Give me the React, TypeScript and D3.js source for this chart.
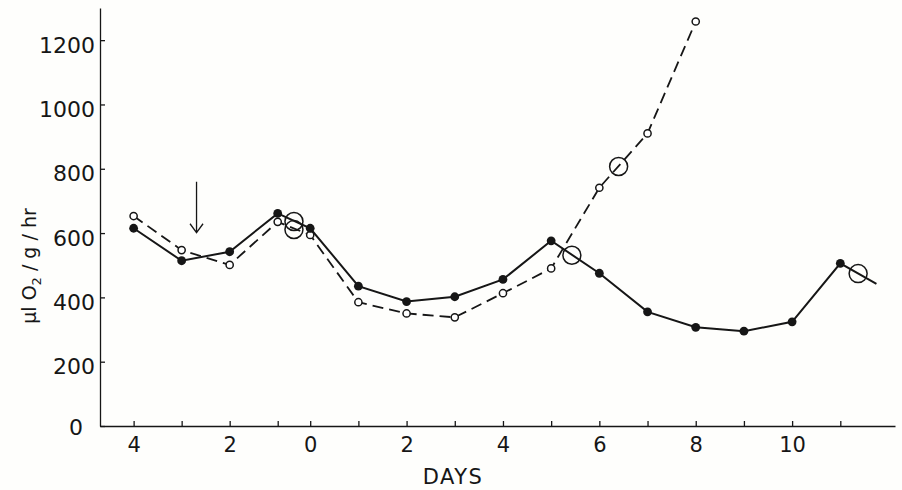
import React, { useEffect, useRef } from 'react';
import * as d3 from 'd3';

// days relative to the event; left segment (-4..-1) is drawn on its own spacing
const tickDays = d3.range(-4, 12);
const solidDays = [-4, -3, -2, -1, 0, 1, 2, 3, 4, 5, 6, 7, 8, 9, 10, 11];
const solidValues = [615, 514, 542, 661, 615, 435, 387, 402, 456, 576, 475, 355, 307, 295, 324, 506];
const solidTail = { day: 11.75, value: 442 };
const dashedDays = [-4, -3, -2, -1, 0, 1, 2, 3, 4, 5, 6, 7, 8];
const dashedValues = [653, 547, 501, 635, 594, 385, 350, 338, 413, 490, 741, 910, 1258];
const bigDays = [-0.5, -0.5, 5.43, 6.4, 11.37];
const bigValues = [636, 611, 531, 807, 474];
const arrowDay = -2.69;
const arrowFrom = 760;
const arrowTo = 601;
const yTicks = [0, 200, 400, 600, 800, 1000, 1200];

const W = 902, H = 490;
const ink = '#161616';
const font = '"DejaVu Sans", sans-serif';

const App: React.FC = () => {
  const svgRef = useRef<SVGSVGElement | null>(null);

  useEffect(() => {
    if (!svgRef.current) return;
    const svg = d3.select(svgRef.current);
    svg.selectAll('*').remove();

    // polylinear: the -1..0 gap is narrower than the other days
    const x = d3.scaleLinear().domain([-4.7, -1, 0, 12.135]).range([100, 277.7, 310.2, 895]);
    const y = d3.scaleLinear().domain([0, 1300]).range([426, 8]);

    svg.append('rect').attr('width', W).attr('height', H).attr('fill', '#fefefc');

    const xAxis = d3.axisBottom(x)
      .tickValues(tickDays)
      .tickSizeInner(-5)
      .tickSizeOuter(0)
      .tickPadding(11)
      .tickFormat((d: any) => (d % 2 === 0 ? String(Math.abs(d)) : ''));
    const gx = svg.append('g').attr('transform', 'translate(0,426)').call(xAxis as any);
    gx.selectAll('path,line').attr('stroke', ink).attr('stroke-width', 1.3);
    gx.selectAll('text').attr('font-family', font).attr('font-size', 21).attr('fill', ink);

    const yAxis = d3.axisLeft(y)
      .tickValues(yTicks)
      .tickSizeInner(-5)
      .tickSizeOuter(0)
      .tickPadding(5)
      .tickFormat((d: any) => String(d));
    const gy = svg.append('g').attr('transform', 'translate(100,0)').call(yAxis as any);
    gy.selectAll('path,line').attr('stroke', ink).attr('stroke-width', 1.3);
    gy.selectAll('text')
      .attr('font-family', font).attr('font-size', 22).attr('fill', ink)
      .attr('dy', (d: any) => (d === 0 ? '0.4em' : '0.55em'))
      .attr('x', (d: any) => (d === 0 ? -17 : -5));

    svg.append('text')
      .attr('x', 453).attr('y', 484)
      .attr('text-anchor', 'middle')
      .attr('font-family', font).attr('font-size', 21).attr('letter-spacing', 1.5).attr('fill', ink)
      .text('DAYS');

    const yl = svg.append('text')
      .attr('transform', 'translate(36,266) rotate(-90)')
      .attr('text-anchor', 'middle')
      .attr('font-family', font).attr('font-size', 19).attr('fill', ink);
    yl.append('tspan').text('\u00b5l O');
    yl.append('tspan').attr('font-size', 13).attr('dy', 5).text('2');
    yl.append('tspan').attr('dy', -5).text(' / g / hr');

    const line = d3.line<[number, number]>().x(d => x(d[0])).y(d => y(d[1]));
    const solidPts: [number, number][] = solidDays.map((d, i) => [d, solidValues[i]]);
    const dashedPts: [number, number][] = dashedDays.map((d, i) => [d, dashedValues[i]]);

    svg.append('path')
      .attr('d', line(dashedPts))
      .attr('fill', 'none').attr('stroke', ink).attr('stroke-width', 1.8)
      .attr('stroke-dasharray', '11,6');
    svg.append('path')
      .attr('d', line([...solidPts, [solidTail.day, solidTail.value]]))
      .attr('fill', 'none').attr('stroke', ink).attr('stroke-width', 2);

    svg.append('g').selectAll('circle').data(dashedPts).enter().append('circle')
      .attr('cx', d => x(d[0])).attr('cy', d => y(d[1])).attr('r', 3.6)
      .attr('fill', '#fff').attr('stroke', ink).attr('stroke-width', 1.5);
    svg.append('g').selectAll('circle').data(solidPts).enter().append('circle')
      .attr('cx', d => x(d[0])).attr('cy', d => y(d[1])).attr('r', 4.4)
      .attr('fill', ink);

    svg.append('g').selectAll('circle').data(bigDays).enter().append('circle')
      .attr('cx', d => x(d)).attr('cy', (_, i) => y(bigValues[i])).attr('r', 9)
      .attr('fill', 'none').attr('stroke', ink).attr('stroke-width', 1.5);

    const ax = x(arrowDay), ay0 = y(arrowFrom), ay1 = y(arrowTo);
    svg.append('path')
      .attr('d', `M${ax},${ay0}V${ay1}M${ax - 6.5},${ay1 - 9}L${ax},${ay1}L${ax + 6.5},${ay1 - 9}`)
      .attr('fill', 'none').attr('stroke', ink).attr('stroke-width', 1.3);
  }, []);

  return (
    <svg ref={svgRef} width={W} height={H} style={{ position: 'absolute', left: 0, top: 0 }} />
  );
};

export default App;
